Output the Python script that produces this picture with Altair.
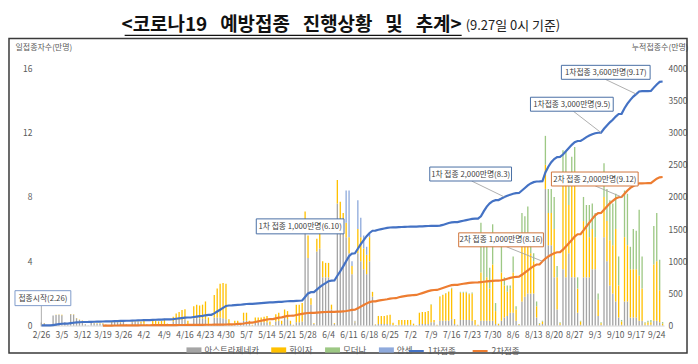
import altair as alt
import pandas as pd

FONT = "Noto Sans CJK KR"
TXT = "#595959"

# ---------------- categories ----------------
date_index = pd.date_range("2021-02-26", "2021-09-26", freq="D")
dates = [f"{d.month}/{d.day}" for d in date_index]
tick_labels = dates[::7]

vaccines = ["아스트라제네카", "화이자", "모더나", "얀센"]
vac_colors = ["#A5A5A5", "#FFC000", "#9DC884", "#8FAADC"]
dose_series = ["1차접종", "2차접종"]
dose_colors = ["#4472C4", "#ED7D31"]

# ---------------- daily doses (left axis units), weekly rows Fri..Thu ----------------
az_rows = [
    [0.19, 0.15, 0.02, 0.05, 0.62, 0.66, 0.68],
    [0.65, 0.2, 0.03, 0.7, 0.68, 0.45, 0.35],
    [0.3, 0.08, 0.02, 0.22, 0.15, 0.12, 0.12],
    [0.12, 0.05, 0.01, 0.18, 0.22, 0.2, 0.2],
    [0.22, 0.06, 0.01, 0.2, 0.22, 0.2, 0.15],
    [0.12, 0.04, 0.01, 0.1, 0.1, 0.08, 0.04],
    [0.02, 0.0, 0.0, 0.25, 0.35, 0.35, 0.35],
    [0.4, 0.1, 0.02, 0.45, 0.5, 0.45, 0.45],
    [0.4, 0.1, 0.02, 0.5, 0.5, 0.5, 0.45],
    [0.4, 0.1, 0.02, 0.15, 0.15, 0.05, 0.3],
    [0.3, 0.1, 0.02, 0.2, 0.2, 0.2, 0.2],
    [0.2, 0.05, 0.01, 0.25, 0.3, 0.1, 0.5],
    [0.4, 0.1, 0.02, 0.2, 0.2, 0.25, 6.0],
    [4.2, 1.3, 0.1, 4.6, 4.8, 3.0, 3.0],
    [3.0, 1.0, 0.1, 7.6, 6.5, 6.0, 5.5],
    [4.5, 3.2, 0.2, 4.5, 4.0, 3.5, 3.2],
    [4.0, 1.8, 0.05, 0.1, 0.1, 0.1, 0.1],
    [0.08, 0.03, 0.01, 0.05, 0.05, 0.05, 0.05],
    [0.05, 0.02, 0.0, 0.1, 0.1, 0.1, 0.1],
    [0.2, 0.2, 0.02, 0.3, 0.3, 0.3, 0.3],
    [0.4, 0.1, 0.02, 0.35, 0.35, 0.35, 0.35],
    [0.3, 0.05, 0.01, 0.3, 0.3, 0.3, 0.3],
    [0.3, 0.1, 0.02, 0.3, 0.5, 0.6, 0.8],
    [0.8, 0.3, 0.03, 1.5, 1.8, 2.0, 2.0],
    [2.0, 0.5, 0.05, 0.1, 8.5, 5.0, 5.0],
    [3.0, 1.0, 0.05, 3.5, 3.0, 4.5, 3.0],
    [3.0, 0.8, 0.05, 3.0, 3.0, 3.0, 3.5],
    [3.5, 0.6, 0.05, 5.5, 4.0, 2.5, 2.0],
    [1.5, 0.5, 0.05, 1.5, 1.5, 0.5, 0.5],
    [0.5, 0.3, 0.3, 0.05, 0.05, 0.05, 0.3],
    [0.3, 0.2, 0.02],
]
pfizer_rows = [
    [0.0, 0.01, 0.0, 0.0, 0.01, 0.01, 0.01],
    [0.02, 0.01, 0.0, 0.02, 0.02, 0.02, 0.02],
    [0.02, 0.01, 0.0, 0.02, 0.02, 0.02, 0.02],
    [0.03, 0.02, 0.0, 0.05, 0.05, 0.05, 0.05],
    [0.05, 0.02, 0.0, 0.05, 0.05, 0.05, 0.1],
    [0.2, 0.05, 0.01, 0.18, 0.22, 0.18, 0.25],
    [0.4, 0.12, 0.02, 0.3, 0.4, 0.5, 0.62],
    [0.62, 0.2, 0.03, 0.75, 0.8, 0.8, 0.85],
    [1.1, 0.4, 0.05, 1.4, 1.8, 2.1, 2.2],
    [2.2, 0.3, 0.05, 0.15, 0.15, 0.05, 0.5],
    [0.5, 0.2, 0.03, 0.3, 0.3, 0.3, 0.35],
    [0.4, 0.2, 0.03, 0.45, 0.5, 0.2, 0.5],
    [0.5, 0.2, 0.03, 1.1, 1.1, 1.15, 1.1],
    [1.4, 0.4, 0.05, 0.8, 1.0, 1.0, 0.9],
    [0.9, 0.3, 0.05, 1.45, 1.2, 1.0, 0.9],
    [1.0, 0.5, 0.05, 1.5, 1.5, 1.3, 1.2],
    [1.5, 0.3, 0.03, 0.5, 0.5, 0.5, 0.55],
    [0.6, 0.15, 0.02, 0.3, 0.3, 0.3, 0.3],
    [0.3, 0.1, 0.02, 0.7, 0.75, 0.75, 0.8],
    [1.1, 0.15, 0.03, 1.5, 1.6, 1.7, 1.8],
    [1.9, 0.3, 0.03, 1.7, 1.7, 1.7, 1.6],
    [1.7, 0.3, 0.04, 3.0, 2.5, 2.7, 2.0],
    [3.5, 0.8, 0.08, 3.0, 2.0, 1.5, 1.5],
    [2.5, 0.7, 0.05, 4.0, 3.5, 3.5, 2.5],
    [2.0, 0.7, 0.05, 0.15, 1.5, 2.0, 2.0],
    [3.0, 2.0, 0.1, 5.5, 6.0, 3.0, 6.0],
    [6.6, 1.5, 0.2, 3.5, 3.0, 2.5, 2.5],
    [2.0, 1.0, 0.1, 2.5, 2.5, 2.8, 3.0],
    [4.5, 2.0, 0.2, 4.0, 3.5, 3.0, 3.0],
    [3.0, 2.8, 2.0, 0.1, 0.15, 0.15, 3.5],
    [3.7, 2.0, 0.1],
]
moderna_rows = [
    [0, 0, 0, 0, 0, 0, 0], [0, 0, 0, 0, 0, 0, 0], [0, 0, 0, 0, 0, 0, 0],
    [0, 0, 0, 0, 0, 0, 0], [0, 0, 0, 0, 0, 0, 0], [0, 0, 0, 0, 0, 0, 0],
    [0, 0, 0, 0, 0, 0, 0], [0, 0, 0, 0, 0, 0, 0], [0, 0, 0, 0, 0, 0, 0],
    [0, 0, 0, 0, 0, 0, 0], [0, 0, 0, 0, 0, 0, 0], [0, 0, 0, 0, 0, 0, 0],
    [0, 0, 0, 0, 0, 0, 0], [0, 0, 0, 0, 0, 0, 0], [0, 0, 0, 0, 0, 0, 0],
    [0, 0, 0, 0, 0, 0, 0], [0, 0, 0, 0, 0, 0, 0], [0, 0, 0, 0, 0, 0, 0],
    [0, 0, 0, 0, 0, 0, 0],
    [0.02, 0.0, 0.0, 0.02, 0.02, 0.02, 0.02],
    [0.05, 0.01, 0.0, 0.05, 0.05, 0.05, 0.05],
    [0.05, 0.0, 0.0, 3.1, 2.2, 2.0, 1.3],
    [2.5, 0.5, 0.02, 1.7, 0.5, 0.4, 0.2],
    [1.0, 0.2, 0.02, 1.5, 1.5, 1.9, 1.0],
    [0.5, 0.3, 0.05, 0.05, 1.8, 1.5, 1.5],
    [2.0, 0.7, 0.05, 1.9, 1.8, 1.5, 1.5],
    [1.5, 0.7, 0.05, 1.5, 1.5, 2.0, 1.6],
    [1.5, 0.4, 0.05, 2.1, 2.0, 2.5, 2.6],
    [2.2, 1.8, 0.1, 2.9, 3.2, 1.4, 2.5],
    [2.4, 4.1, 2.0, 0.05, 0.1, 0.15, 2.4],
    [3.0, 1.9, 0.1],
]
janssen_rows = [
    [0, 0, 0, 0, 0, 0, 0], [0, 0, 0, 0, 0, 0, 0], [0, 0, 0, 0, 0, 0, 0],
    [0, 0, 0, 0, 0, 0, 0], [0, 0, 0, 0, 0, 0, 0], [0, 0, 0, 0, 0, 0, 0],
    [0, 0, 0, 0, 0, 0, 0], [0, 0, 0, 0, 0, 0, 0], [0, 0, 0, 0, 0, 0, 0],
    [0, 0, 0, 0, 0, 0, 0], [0, 0, 0, 0, 0, 0, 0], [0, 0, 0, 0, 0, 0, 0],
    [0, 0, 0, 0, 0, 0, 0], [0, 0, 0, 0, 0, 0, 0],
    [0, 0, 0, 0, 0, 0, 2.0],
    [2.9, 0.3, 0.05, 1.8, 1.2, 0.8, 0.5],
    [0.2, 0, 0, 0, 0, 0, 0],
    [0, 0, 0, 0, 0, 0, 0], [0, 0, 0, 0, 0, 0, 0], [0, 0, 0, 0, 0, 0, 0],
    [0, 0, 0, 0, 0, 0, 0], [0, 0, 0, 0, 0, 0, 0], [0, 0, 0, 0, 0, 0, 0],
    [0, 0, 0, 0, 0, 0, 0], [0, 0, 0, 0, 0, 0, 0], [0, 0, 0, 0, 0, 0, 0],
    [0, 0, 0, 0, 0, 0, 0], [0, 0, 0, 0, 0, 0, 0], [0, 0, 0, 0, 0, 0, 0],
    [0, 0, 0, 0, 0, 0, 0],
    [0, 0, 0],
]

# ---------------- cumulative (만명, right axis) ----------------
dose1_rows = [
    [1.9, 2.1, 2.1, 2.2, 8.3, 14.9, 21.7],
    [28.0, 30.0, 30.3, 37.5, 44.2, 48.7, 52.2],
    [55.2, 56.0, 56.2, 58.4, 59.9, 61.1, 62.3],
    [63.5, 64.0, 64.1, 65.9, 68.1, 70.1, 72.1],
    [74.3, 74.9, 75.0, 77.0, 79.2, 81.2, 82.7],
    [85.0, 85.9, 86.0, 88.0, 90.3, 92.0, 94.0],
    [96.0, 97.2, 97.4, 101.0, 106.0, 111.5, 117.0],
    [123.0, 125.5, 126.0, 133.0, 140.0, 146.0, 152.0],
    [160, 166, 167, 190, 218, 246, 276],
    [305, 312, 313, 318, 322, 324, 330],
    [336, 338, 338.5, 342, 346, 350, 354],
    [358, 360, 360.5, 364, 368, 370, 374],
    [378, 380, 380.5, 383, 386, 389, 445],
    [500, 520, 521, 560, 600, 632, 660],
    [690, 700, 701, 775, 845, 920, 1000],
    [1080, 1120, 1125, 1195, 1265, 1330, 1390],
    [1440, 1475, 1477, 1490, 1500, 1510, 1520],
    [1525, 1527, 1527, 1530, 1533, 1535, 1537],
    [1539, 1540, 1540, 1542, 1544, 1546, 1548],
    [1550, 1551, 1551, 1555, 1565, 1580, 1595],
    [1605, 1610, 1610, 1620, 1630, 1640, 1650],
    [1660, 1663, 1663, 1700, 1780, 1850, 1900],
    [1935, 1950, 1952, 1975, 2000, 2020, 2035],
    [2050, 2060, 2061, 2100, 2140, 2180, 2210],
    [2230, 2240, 2241, 2245, 2380, 2470, 2540],
    [2590, 2620, 2622, 2660, 2710, 2760, 2810],
    [2850, 2870, 2872, 2900, 2930, 2955, 2975],
    [2990, 2998, 3000, 3060, 3110, 3160, 3200],
    [3250, 3290, 3292, 3380, 3450, 3510, 3560],
    [3600, 3640, 3645, 3646, 3647, 3648, 3700],
    [3750, 3790, 3795],
]
dose2_first_date = "3/19"
dose2_rows = [
    [0.0, 0.2, 0.2, 0.5, 0.9, 1.4, 1.9],
    [2.4, 2.6, 2.6, 3.0, 3.5, 4.0, 4.7],
    [5.3, 5.5, 5.5, 5.8, 6.2, 6.6, 7.0],
    [7.4, 7.5, 7.5, 7.8, 8.2, 8.6, 9.0],
    [9.4, 9.5, 9.5, 10.0, 10.6, 11.2, 11.8],
    [12.5, 12.8, 12.8, 13.5, 14.2, 14.9, 15.8],
    [17, 18, 18.2, 21, 25, 26, 32],
    [40, 45, 45.5, 55, 65, 75, 85],
    [95, 100, 100.5, 112, 124, 128, 140],
    [150, 153, 153.5, 165, 175, 183, 190],
    [196, 198, 198.2, 202, 205, 208, 211],
    [213, 214, 214.2, 216, 218, 222, 227],
    [235, 245, 246, 270, 295, 320, 345],
    [365, 375, 376, 388, 395, 402, 410],
    [420, 425, 425.5, 440, 450, 458, 465],
    [470, 475, 476, 490, 505, 520, 535],
    [548, 553, 554, 570, 585, 600, 615],
    [628, 632, 633, 642, 650, 657, 663],
    [668, 670, 670.5, 676, 682, 688, 692],
    [696, 698, 698.5, 705, 715, 728, 742],
    [752, 758, 759, 790, 825, 860, 895],
    [925, 950, 951, 1000, 1040, 1075, 1100],
    [1125, 1140, 1142, 1180, 1230, 1280, 1330],
    [1385, 1420, 1423, 1480, 1540, 1600, 1660],
    [1715, 1750, 1752, 1800, 1850, 1900, 1940],
    [1975, 1995, 2000, 2050, 2100, 2140, 2170],
    [2195, 2210, 2212, 2213, 2214, 2215, 2250],
    [2285, 2305, 2310],
]

# ---------------- annotation texts ----------------
note_labels = ["접종시작(2.26)", "1차 접종 1,000만명(6.10)", "1차 접종 2,000만명(8.3)",
               "1차접종 3,000만명(9.5)", "1차접종 3,600만명(9.17)",
               "2차 접종 1,000만명(8.16)", "2차 접종 2,000만명(9.12)"]
note_dates = ["2/26", "6/10", "8/3", "9/5", "9/17", "8/16", "9/12"]
note_values = [0, 1000, 2000, 3000, 3600, 1000, 2000]
title_words = ["<코로나19", "예방접종", "진행상황", "및", "추계>"]
subtitle_text = "(9.27일 0시 기준)"


def flat(rows):
    return [v for r in rows for v in r]


series = [flat(az_rows), flat(pfizer_rows), flat(moderna_rows), flat(janssen_rows)]
for s in series:
    assert len(s) == len(dates), len(s)
d1 = flat(dose1_rows)
d2 = flat(dose2_rows)
i2 = dates.index(dose2_first_date)
assert len(d1) == len(dates) and len(d2) == len(dates) - i2

bar_records = []
for k, (name, vals) in enumerate(zip(vaccines, series)):
    for dt, v in zip(dates, vals):
        bar_records.append({"date": dt, "vaccine": name, "value": v, "ord": k})
bars_df = pd.DataFrame(bar_records)

line_records = [{"date": dt, "series": dose_series[0], "value": v} for dt, v in zip(dates, d1)]
line_records += [{"date": dt, "series": dose_series[1], "value": v} for dt, v in zip(dates[i2:], d2)]
lines_df = pd.DataFrame(line_records)

# ---------------- encodings ----------------
X = alt.X(
    "date:O",
    scale=alt.Scale(domain=dates, paddingInner=0.55, paddingOuter=0.275),
    axis=alt.Axis(values=tick_labels, labelAngle=0, labelFontSize=8.5, labelColor=TXT,
                  labelFont=FONT, ticks=False, domain=True, domainColor="#D9D9D9",
                  labelPadding=5, grid=False, labelOverlap=False, title=None),
    title=None,
)

left_axis = alt.Axis(values=[0, 4, 8, 12, 16], title="일접종자수(만명)", titleAngle=0,
                     titleX=-25, titleY=-21, titleAlign="left", titleBaseline="middle",
                     titleFontSize=8, titleFontWeight="normal", titleColor=TXT, titleFont=FONT,
                     labelFontSize=8.5, labelColor=TXT, labelFont=FONT, labelPadding=8,
                     ticks=False, domain=False, grid=False, orient="left")
right_axis = alt.Axis(values=list(range(0, 4001, 500)), format="d", title="누적접종수(만명)",
                      titleAngle=0, titleX=24, titleY=-21, titleAlign="right",
                      titleBaseline="middle", titleFontSize=8, titleFontWeight="normal",
                      titleColor=TXT, titleFont=FONT, labelFontSize=8.5, labelColor=TXT,
                      labelFont=FONT, labelPadding=4, ticks=False, domain=False, grid=False,
                      orient="right")

legend_bars = alt.Legend(orient="none", legendX=147, legendY=275, direction="horizontal",
                         columns=4, title=None,
                         symbolType="M-1,-0.35L1,-0.35L1,0.35L-1,0.35Z", symbolSize=225,
                         symbolStrokeWidth=0, labelFontSize=8.5, labelColor=TXT, labelFont=FONT,
                         columnPadding=12, labelOffset=3, padding=0)
legend_lines = alt.Legend(orient="none", legendX=369, legendY=275, direction="horizontal",
                          columns=2, title=None, symbolType="stroke", symbolSize=225,
                          symbolStrokeWidth=2, labelFontSize=8.5, labelColor=TXT, labelFont=FONT,
                          columnPadding=12, labelOffset=3, padding=0)

bars = alt.Chart(bars_df).mark_bar().encode(
    x=X,
    y=alt.Y("value:Q", stack="zero", scale=alt.Scale(domain=[0, 16], nice=False), axis=left_axis),
    color=alt.Color("vaccine:N", scale=alt.Scale(domain=vaccines, range=vac_colors), legend=legend_bars),
    order=alt.Order("ord:Q", sort="ascending"),
)

lines = alt.Chart(lines_df).mark_line(strokeWidth=2.2).encode(
    x=X,
    y=alt.Y("value:Q", scale=alt.Scale(domain=[0, 4000], nice=False), axis=right_axis),
    stroke=alt.Stroke("series:N", scale=alt.Scale(domain=dose_series, range=dose_colors),
                      legend=legend_lines),
)

# annotation layout (pixels relative to plot area): box x0, x1, y0, y1 ; leader start x, y
note_boxes = [(-25, 31, 223, 238), (217, 305, 151, 166), (391, 473, 99, 113),
              (492, 575, 29, 43), (523, 612, -3, 11), (420, 505, 165, 179), (513, 600, 104, 118)]
note_leaders = [(1.47, 238), None, (433, 113), (535, 43), (567, 11), (468, 179), (557, 118)]
note_border = ["#7F9CCB", "#4A6FA5", "#4A6FA5", "#4A6FA5", "#4A6FA5", "#D0743C", "#D0743C"]

leader_layers, box_layers, text_layers = [], [], []
for lab, dt, val, (bx0, bx1, by0, by1), ld, bc in zip(note_labels, note_dates, note_values,
                                                      note_boxes, note_leaders, note_border):
    ndf = pd.DataFrame({"date": [dt], "value": [val], "label": [lab]})
    if ld is not None:
        leader_layers.append(
            alt.Chart(ndf).mark_rule(color="#A6A6A6", strokeWidth=0.9).encode(
                x=X,
                y=alt.Y("value:Q", scale=alt.Scale(domain=[0, 4000], nice=False), axis=None),
                x2=alt.value(ld[0]), y2=alt.value(ld[1]),
            )
        )
    box_layers.append(
        alt.Chart(ndf).mark_rect(fill="white", stroke=bc, strokeWidth=1).encode(
            x=alt.value(bx0), x2=alt.value(bx1), y=alt.value(by0), y2=alt.value(by1)
        )
    )
    text_layers.append(
        alt.Chart(ndf).mark_text(font=FONT, fontSize=7.8, color="#404040", align="center",
                                 baseline="middle").encode(
            x=alt.value((bx0 + bx1) / 2), y=alt.value((by0 + by1) / 2 + 0.5), text="label:N"
        )
    )

GAP = "\u00a0\u00a0\u00a0"
tdf = pd.DataFrame({"t": [GAP.join(title_words)], "s": [subtitle_text]})
frame = alt.Chart(tdf).mark_rect(fill="white", fillOpacity=0, stroke="#3A3A3A", strokeWidth=1.5).encode(
    x=alt.value(-31), x2=alt.value(649), y=alt.value(-30), y2=alt.value(285.5)
)
title = alt.Chart(tdf).mark_text(font=FONT, fontSize=19, fontWeight="bold", color="#111111",
                                 align="right", baseline="middle").encode(
    x=alt.value(423), y=alt.value(-43.5), text="t:N")
subtitle = alt.Chart(tdf).mark_text(font=FONT, fontSize=13, color="#222222",
                                    align="left", baseline="middle").encode(
    x=alt.value(427), y=alt.value(-42.5), text="s:N")
underline = alt.Chart(tdf).mark_rule(color="#111111", strokeWidth=1.2).encode(
    x=alt.value(85), x2=alt.value(423), y=alt.value(-33))

chart = alt.layer(
    frame, bars, lines, *leader_layers, *box_layers, *text_layers, title, subtitle, underline
).resolve_scale(y="independent").properties(
    width=626, height=258,
    autosize=alt.AutoSizeParams(type="none"),
    padding={"left": 32, "top": 60, "right": 26, "bottom": 29},
    background="white",
).configure_view(strokeWidth=0)

chart.save("out.html", embed_options={"renderer": "svg", "actions": False})
